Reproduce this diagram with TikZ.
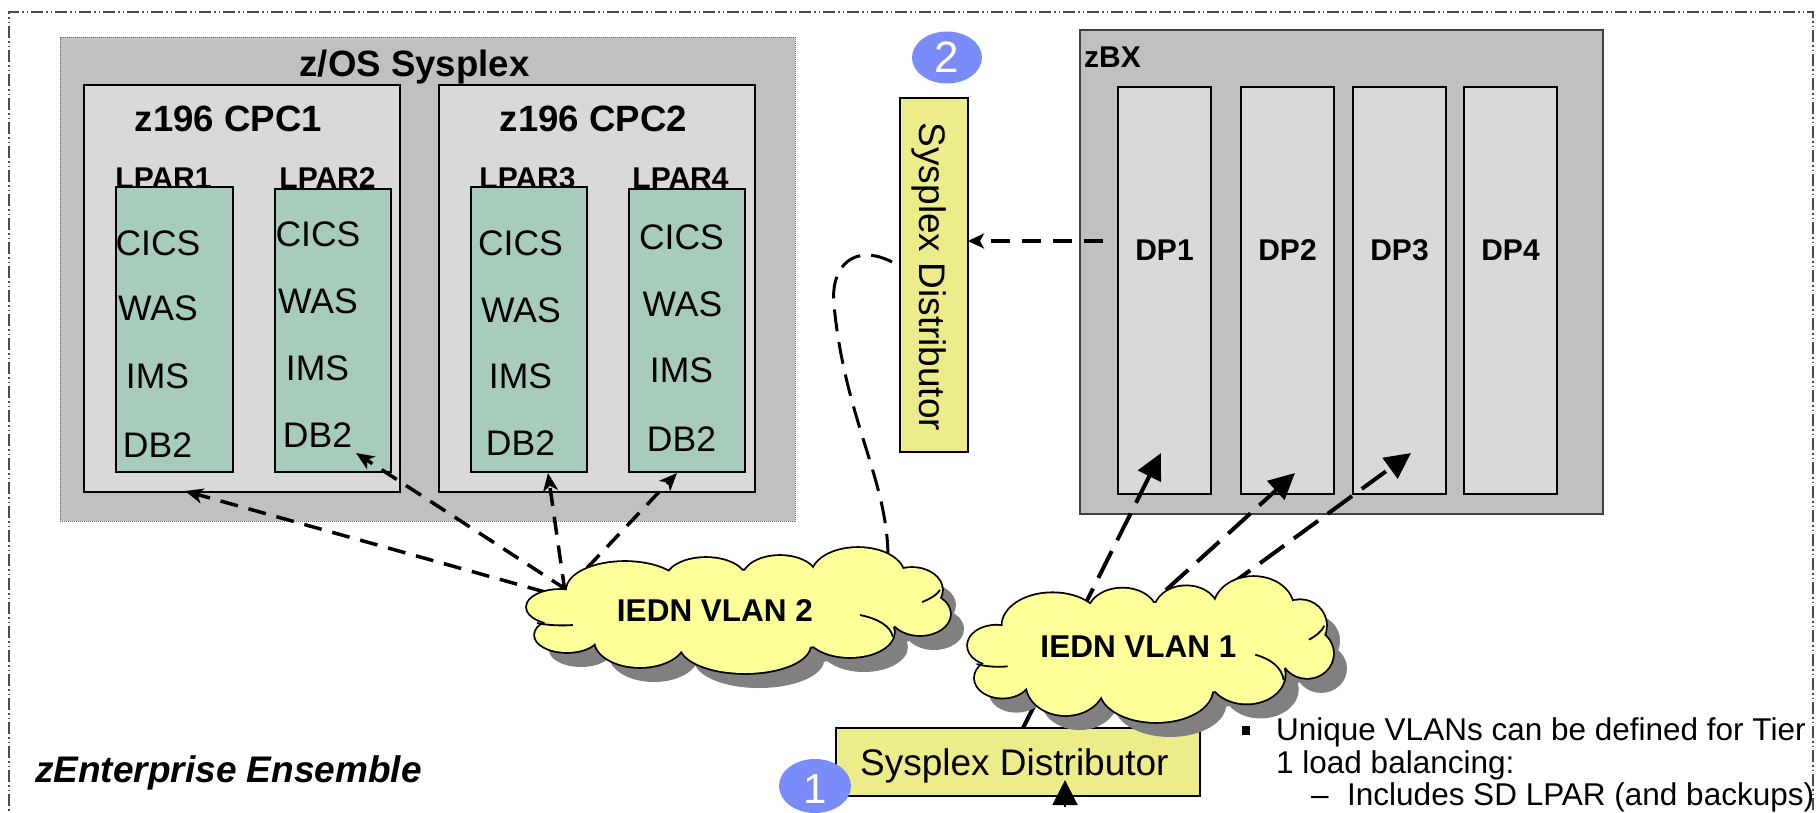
\documentclass[tikz,border=0pt]{standalone}
\usepackage{fontspec}
\setmainfont{Liberation Sans}
\usetikzlibrary{arrows.meta,shapes.geometric}
\definecolor{sysgray}{RGB}{192,192,192}
\definecolor{cpcgray}{RGB}{217,217,217}
\definecolor{lpargreen}{RGB}{168,204,188}
\definecolor{sdyellow}{RGB}{236,236,138}
\definecolor{cloudyellow}{RGB}{255,255,153}
\definecolor{shadowgray}{RGB}{128,128,128}
\definecolor{numblue}{RGB}{122,140,250}
\newcommand{\cloudlobes}[1]{%
\path[#1] (-0.844,-0.056) ellipse [x radius=0.156, y radius=0.272]
 (-0.811,0.392) ellipse [x radius=0.151, y radius=0.272]
 (-0.537,-0.328) ellipse [x radius=0.274, y radius=0.448]
 (-0.154,-0.488) ellipse [x radius=0.189, y radius=0.352]
 (0.196,-0.52) ellipse [x radius=0.175, y radius=0.352]
 (0.565,-0.568) ellipse [x radius=0.217, y radius=0.432]
 (0.820,-0.328) ellipse [x radius=0.142, y radius=0.352]
 (0.858,0.056) ellipse [x radius=0.142, y radius=0.336]
 (0.527,0.344) ellipse [x radius=0.208, y radius=0.4]
 (0.031,0.552) ellipse [x radius=0.307, y radius=0.448]
 (-0.466,0.472) ellipse [x radius=0.213, y radius=0.432]
 (0,0) ellipse [x radius=0.8, y radius=0.64];}
\newcommand{\cloudcreases}{%
\draw[line width=1.8pt] (-0.953,0.2) .. controls (-0.9,0.24) and (-0.83,0.245) .. (-0.783,0.232);
\draw[line width=1.8pt] (0.574,0.072) .. controls (0.66,0.13) and (0.72,0.25) .. (0.730,0.424);
\draw[line width=1.8pt] (0.868,-0.136) .. controls (0.91,-0.19) and (0.94,-0.26) .. (0.953,-0.328);}
\newcommand{\drawcloud}[4]{%
\begin{scope}[shift={(#1+14,#2+15)}, xscale=#3, yscale=#4]\cloudlobes{fill=shadowgray}\end{scope}
\begin{scope}[shift={(#1,#2)}, xscale=#3, yscale=#4]\cloudlobes{draw=black, line width=3.6pt}\cloudlobes{fill=cloudyellow}\cloudcreases\end{scope}}
\tikzset{
  box/.style={draw, anchor=north west, inner sep=0pt, outer sep=0pt},
  blackbox/.style={box, line width=2.5pt},
  reg/.style={font=\fontsize{35.5}{40}\selectfont, inner sep=0pt, anchor=base},
  bld/.style={font=\bfseries\fontsize{30}{36}\selectfont, inner sep=0pt, anchor=base},
  vlan/.style={font=\bfseries\fontsize{31.5}{36}\selectfont, inner sep=0pt, anchor=base},
  ttl/.style={font=\bfseries\fontsize{36.6}{40}\selectfont, inner sep=0pt, anchor=base},
  note/.style={font=\fontsize{31.5}{36}\selectfont, inner sep=0pt, anchor=base west},
  numcirc/.style={ellipse, fill=numblue, inner sep=0pt, outer sep=0pt, text=white, font=\fontsize{44}{48}\selectfont},
  lparrow/.style={line width=3.5pt, dash pattern=on 18pt off 11pt, -{Stealth[length=18pt,width=15pt,inset=5pt]}},
  dparrow/.style={line width=4pt, dash pattern=on 30pt off 12pt, -{Triangle[length=26pt,width=25pt]}},
  sdline/.style={line width=3pt, dash pattern=on 22pt off 11pt},
}
\begin{document}
\begin{tikzpicture}[x=1pt,y=-1pt]
\useasboundingbox (0,0) rectangle (1818,812);
\fill[white] (0,0) rectangle (1818,812);
% outer border
\draw[black!70, line width=1.2pt, dash pattern=on 12pt off 3pt on 1.5pt off 3pt on 1.5pt off 3pt] (9,830) -- (9,12) -- (1813,12) -- (1813,830);
% z/OS Sysplex
\node[box, draw=black!60, dash pattern=on 1pt off 1pt, line width=1pt, fill=sysgray, minimum width=735pt, minimum height=484pt] (sysplex) at (60,37) {};
\node[ttl] (systitle) at (414.5,76) {z/OS Sysplex};
\node[blackbox, fill=cpcgray, minimum width=316pt, minimum height=407pt] (cpc1) at (84,85) {};
\node[blackbox, fill=cpcgray, minimum width=316pt, minimum height=407pt] (cpc2) at (439,85) {};
\node[ttl] (cpc1t) at (228.5,131) {z196 CPC1};
\node[ttl] (cpc2t) at (593.5,131) {z196 CPC2};
% LPAR labels
\node[bld] (l1t) at (163.5,188) {LPAR1};
\node[bld] (l2t) at (327.5,188) {LPAR2};
\node[bld] (l3t) at (527.5,188) {LPAR3};
\node[bld] (l4t) at (680.5,188) {LPAR4};
% LPAR boxes
\node[blackbox, fill=lpargreen, minimum width=117pt, minimum height=285pt] (lpar1) at (116,187) {};
\node[blackbox, fill=lpargreen, minimum width=116pt, minimum height=283pt] (lpar2) at (275,189) {};
\node[blackbox, fill=lpargreen, minimum width=116pt, minimum height=285pt] (lpar3) at (471,187) {};
\node[blackbox, fill=lpargreen, minimum width=116pt, minimum height=283pt] (lpar4) at (629,189) {};
% LPAR contents
\node[reg] (c1) at (158,255) {CICS};
\node[reg] (w1) at (158,320) {WAS};
\node[reg] (i1) at (157.5,388) {IMS};
\node[reg] (d1) at (157.5,457) {DB2};
\node[reg] (c2) at (318,246) {CICS};
\node[reg] (w2) at (318,313) {WAS};
\node[reg] (i2) at (317.5,380) {IMS};
\node[reg] (d2) at (317.5,447) {DB2};
\node[reg] (c3) at (520.5,255) {CICS};
\node[reg] (w3) at (521,322) {WAS};
\node[reg] (i3) at (520.5,388) {IMS};
\node[reg] (d3) at (520.5,455) {DB2};
\node[reg] (c4) at (681.5,249) {CICS};
\node[reg] (w4) at (682.5,316) {WAS};
\node[reg] (i4) at (681.5,382) {IMS};
\node[reg] (d4) at (681.5,451) {DB2};
% zBX
\node[box, draw=black!75, line width=1.2pt, fill=sysgray, minimum width=523pt, minimum height=484pt] (zbx) at (1080,30) {};
\node[bld, anchor=base west] (zbxt) at (1084,67) {zBX};
\node[blackbox, fill=cpcgray, minimum width=93pt, minimum height=407pt] (dp1) at (1118,87) {};
\node[blackbox, fill=cpcgray, minimum width=93pt, minimum height=407pt] (dp2) at (1241,87) {};
\node[blackbox, fill=cpcgray, minimum width=93pt, minimum height=407pt] (dp3) at (1353,87) {};
\node[blackbox, fill=cpcgray, minimum width=93pt, minimum height=407pt] (dp4) at (1464,87) {};
\node[bld] (dp1t) at (1164.5,260) {DP1};
\node[bld] (dp2t) at (1287.5,260) {DP2};
\node[bld] (dp3t) at (1399.5,260) {DP3};
\node[bld] (dp4t) at (1510.5,260) {DP4};
% vertical Sysplex Distributor
\node[blackbox, fill=sdyellow, minimum width=68pt, minimum height=354pt] (sdv) at (900,98) {};
\node[rotate=-90, inner sep=0pt, font=\fontsize{37}{40}\selectfont] (sdvt) at (929,277) {Sysplex Distributor};
\node[numcirc, minimum width=70pt, minimum height=52pt] (n2) at (947,57.5) {2};
% horizontal Sysplex Distributor
\node[blackbox, fill=sdyellow, minimum width=364pt, minimum height=68pt] (sdh) at (836,728) {};
\node[font=\fontsize{37}{40}\selectfont, inner sep=0pt, anchor=base west] (sdht) at (860,775) {Sysplex Distributor};
\coordinate (tribase) at (1065,807);
\coordinate (tritip) at (1065,780);
\draw[line width=2pt, -{Triangle[length=25pt,width=25pt]}] (tribase) -- (tritip);
\node[numcirc, minimum width=72pt, minimum height=54pt] (n1) at (815,786) {};
\node[text=white, font=\fontsize{42}{46}\selectfont, inner sep=0pt] (n1t) at (815,789) {1};
% connector end points
\coordinate (v2a) at (545,592);
\coordinate (v2b) at (567,590);
\coordinate (v2c) at (565,592);
\coordinate (v2d) at (587,568);
\coordinate (tcpc1) at (185,491);
\coordinate (tlpar2) at (356,453);
\coordinate (tlpar3) at (548,473);
\coordinate (tlpar4) at (677,473);
\coordinate (sda) at (1023,728);
\coordinate (v1b) at (1166,590);
\coordinate (v1c) at (1226,588);
\coordinate (tdp1) at (1161,453);
\coordinate (tdp2) at (1295,473);
\coordinate (tdp3) at (1411,453);
\coordinate (zstart) at (1103,241);
\coordinate (curvestart) at (892,262);
\coordinate (curveend) at (888,558);
% connectors
\draw[lparrow] (v2a) -- (tcpc1);
\draw[lparrow] (v2b) -- (tlpar2);
\draw[lparrow] (v2c) -- (tlpar3);
\draw[lparrow] (v2d) -- (tlpar4);
\draw[dparrow] (sda) -- (tdp1);
\draw[dparrow] (v1b) -- (tdp2);
\draw[dparrow] (v1c) -- (tdp3);
\draw[line width=3.5pt, dash pattern=on 19pt off 12pt, -{Stealth[length=16pt,width=15pt,inset=4pt]}] (zstart) -- (zstart -| sdv.east);
\draw[sdline] (curvestart) .. controls (855,243) and (830,265) .. (834,305) .. controls (845,420) and (888,480) .. (curveend);
% clouds
\drawcloud{738.5}{610.5}{211.5}{62.5}
\node[vlan] (vlan2) at (715,621) {IEDN VLAN 2};
\drawcloud{1150.5}{649.5}{182.5}{72.5}
\node[vlan] (vlan1) at (1138.5,657) {IEDN VLAN 1};
% labels
\node[font=\bfseries\itshape\fontsize{37}{40}\selectfont, inner sep=0pt, anchor=base west] (ens) at (35,782) {zEnterprise Ensemble};
\fill (1242,726) rectangle (1250,735);
\node[note] (nl1) at (1276,740) {Unique VLANs can be defined for Tier};
\node[note] (nl2) at (1276,773) {1 load balancing:};
\node[note] (nl3d) at (1311,805) {–};
\node[note] (nl3) at (1347,805) {Includes SD LPAR (and backups)};
\end{tikzpicture}
\end{document}
